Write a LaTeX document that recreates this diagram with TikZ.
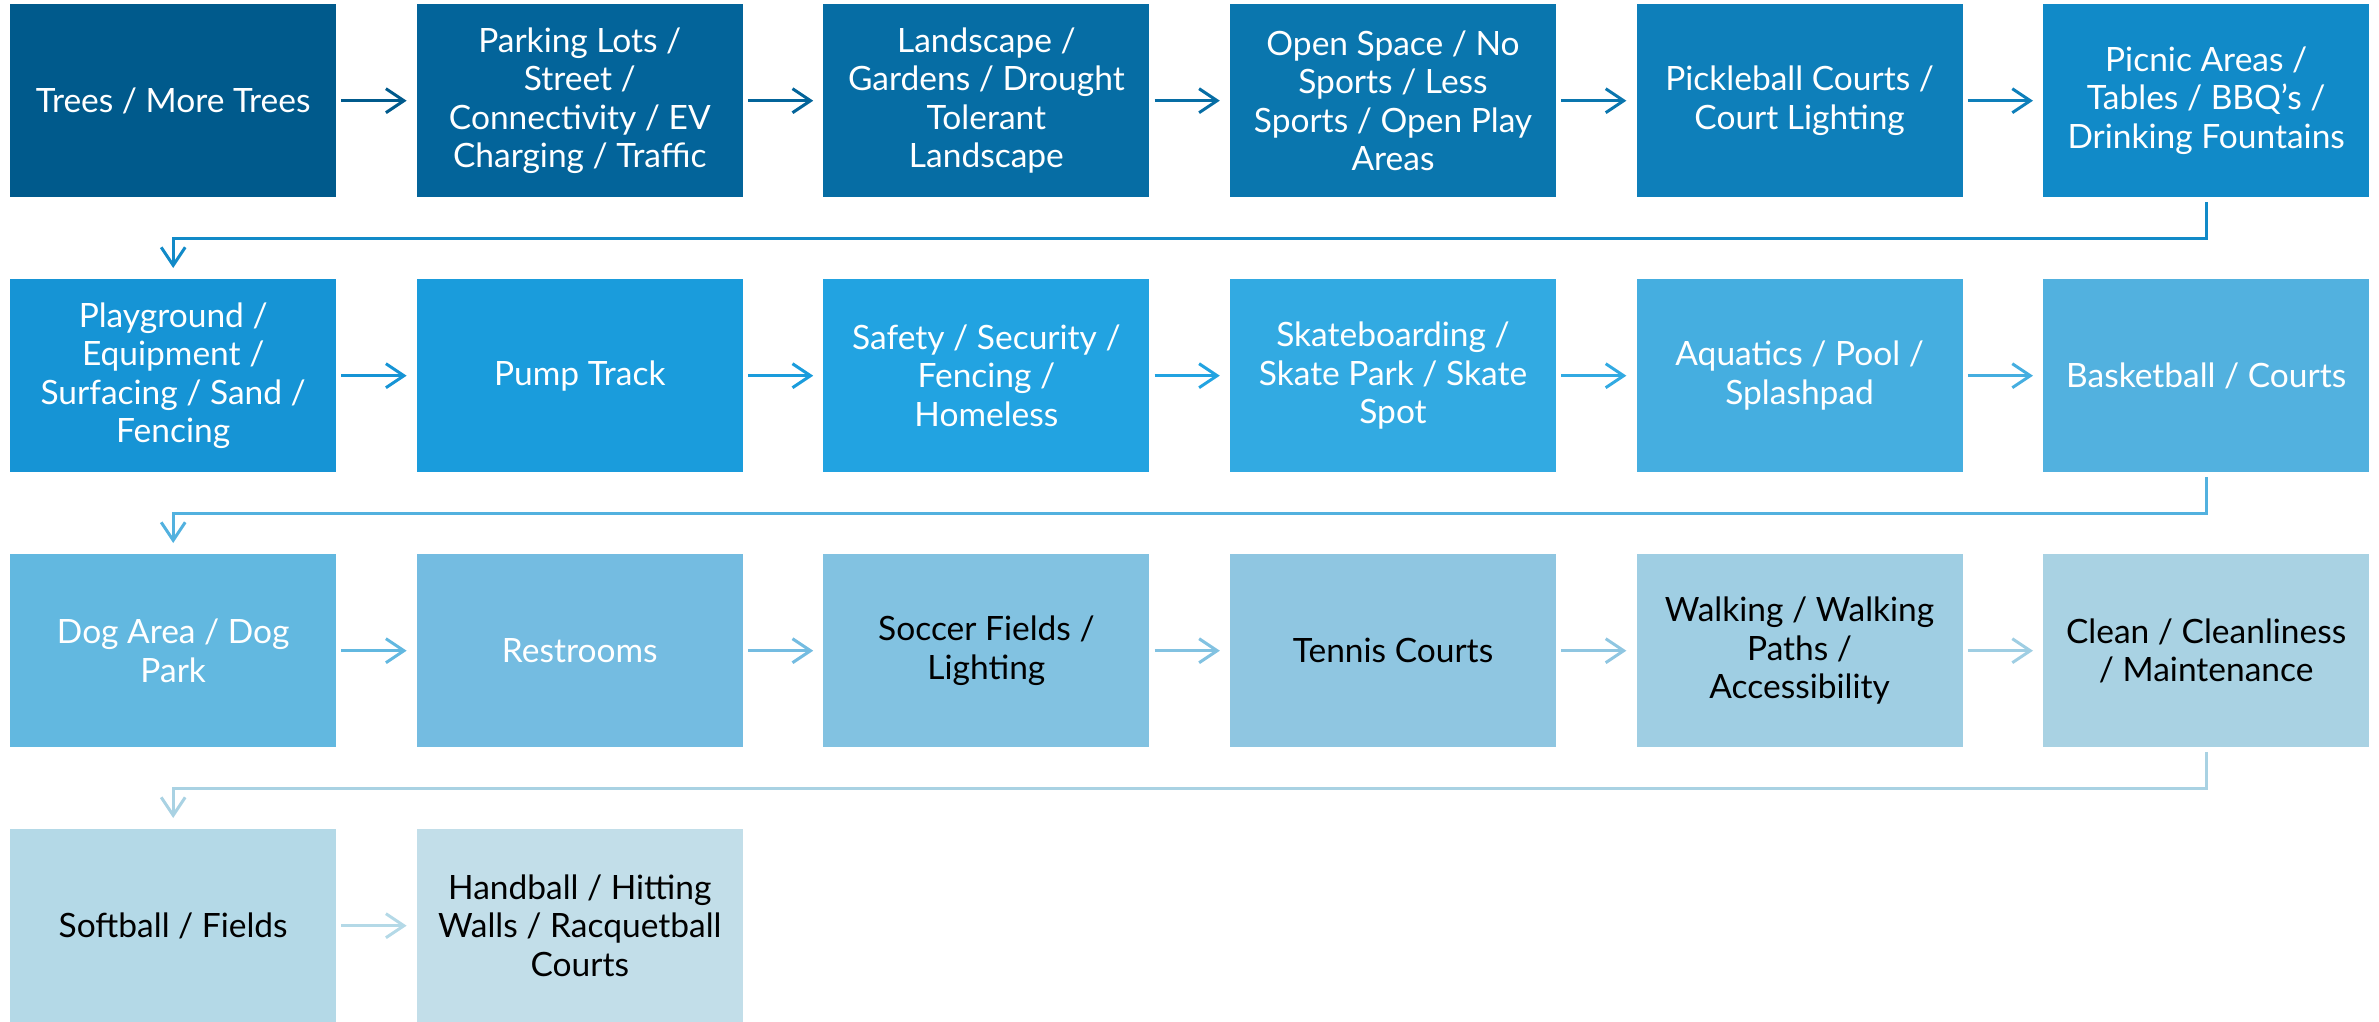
\documentclass[tikz,border=0pt]{standalone}
\usepackage{fontspec}
\setmainfont{Lato}
\usetikzlibrary{arrows.meta}
\definecolor{c1}{HTML}{005A8C}
\definecolor{c2}{HTML}{03649A}
\definecolor{c3}{HTML}{066DA4}
\definecolor{c4}{HTML}{0A76AE}
\definecolor{c5}{HTML}{0E7FBA}
\definecolor{c6}{HTML}{118AC8}
\definecolor{c7}{HTML}{1694D5}
\definecolor{c8}{HTML}{1A9CDC}
\definecolor{c9}{HTML}{22A3E1}
\definecolor{c10}{HTML}{32AAE2}
\definecolor{c11}{HTML}{45AEE0}
\definecolor{c12}{HTML}{52B1DF}
\definecolor{c13}{HTML}{62B8E0}
\definecolor{c14}{HTML}{74BCE1}
\definecolor{c15}{HTML}{82C2E1}
\definecolor{c16}{HTML}{8FC6E1}
\definecolor{c17}{HTML}{9FCEE3}
\definecolor{c18}{HTML}{A9D2E3}
\definecolor{c19}{HTML}{B4D9E7}
\definecolor{c20}{HTML}{C2DEE9}
\tikzset{
  stepbox/.style={fill=#1, draw=none, minimum width=326pt, minimum height=193pt,
    inner sep=0pt, anchor=north west, align=center,
    font=\fontsize{33.5}{38.5}\selectfont},
  wtext/.style={text=white},
  btext/.style={text=black},
  flow/.style={draw=#1, line width=3pt, -{Straight Barb[length=18pt,width=24pt]},
    shorten <=5pt, shorten >=10pt},
  elbow/.style={draw=#1, line width=3pt, -{Straight Barb[length=18pt,width=24pt]},
    shorten <=5pt, shorten >=11pt}
}
\begin{document}
\begin{tikzpicture}[x=1pt,y=-1pt]
\useasboundingbox (0,0) rectangle (2379,1022);
% row 1
\node[stepbox=c1,wtext] (n1) at (10,4) {Trees / More Trees};
\node[stepbox=c2,wtext] (n2) at (416.6,4) {Parking Lots /\\Street /\\Connectivity / EV\\Charging / Traffic};
\node[stepbox=c3,wtext] (n3) at (823.2,4) {Landscape /\\Gardens / Drought\\Tolerant\\Landscape};
\node[stepbox=c4,wtext] (n4) at (1229.8,4) {Open Space / No\\Sports / Less\\Sports / Open Play\\Areas};
\node[stepbox=c5,wtext] (n5) at (1636.4,4) {Pickleball Courts /\\Court Lighting};
\node[stepbox=c6,wtext] (n6) at (2043,4) {Picnic Areas /\\Tables / BBQ’s /\\Drinking Fountains};
% row 2
\node[stepbox=c7,wtext] (n7) at (10,279) {Playground /\\Equipment /\\Surfacing / Sand /\\Fencing};
\node[stepbox=c8,wtext] (n8) at (416.6,279) {Pump Track};
\node[stepbox=c9,wtext] (n9) at (823.2,279) {Safety / Security /\\Fencing /\\Homeless};
\node[stepbox=c10,wtext] (n10) at (1229.8,279) {Skateboarding /\\Skate Park / Skate\\Spot};
\node[stepbox=c11,wtext] (n11) at (1636.4,279) {Aquatics / Pool /\\Splashpad};
\node[stepbox=c12,wtext] (n12) at (2043,279) {Basketball / Courts};
% row 3
\node[stepbox=c13,wtext] (n13) at (10,554) {Dog Area / Dog\\Park};
\node[stepbox=c14,wtext] (n14) at (416.6,554) {Restrooms};
\node[stepbox=c15,btext] (n15) at (823.2,554) {Soccer Fields /\\Lighting};
\node[stepbox=c16,btext] (n16) at (1229.8,554) {Tennis Courts};
\node[stepbox=c17,btext] (n17) at (1636.4,554) {Walking / Walking\\Paths /\\Accessibility};
\node[stepbox=c18,btext] (n18) at (2043,554) {Clean / Cleanliness\\/ Maintenance};
% row 4
\node[stepbox=c19,btext] (n19) at (10,829) {Softball / Fields};
\node[stepbox=c20,btext] (n20) at (416.6,829) {Handball / Hitting\\Walls / Racquetball\\Courts};
% horizontal connectors
\draw[flow=c1] (n1.east) -- (n2.west);
\draw[flow=c2] (n2.east) -- (n3.west);
\draw[flow=c3] (n3.east) -- (n4.west);
\draw[flow=c4] (n4.east) -- (n5.west);
\draw[flow=c5] (n5.east) -- (n6.west);
\draw[flow=c7] (n7.east) -- (n8.west);
\draw[flow=c8] (n8.east) -- (n9.west);
\draw[flow=c9] (n9.east) -- (n10.west);
\draw[flow=c10] (n10.east) -- (n11.west);
\draw[flow=c11] (n11.east) -- (n12.west);
\draw[flow=c13] (n13.east) -- (n14.west);
\draw[flow=c14] (n14.east) -- (n15.west);
\draw[flow=c15] (n15.east) -- (n16.west);
\draw[flow=c16] (n16.east) -- (n17.west);
\draw[flow=c17] (n17.east) -- (n18.west);
\draw[flow=c19] (n19.east) -- (n20.west);
% elbow connectors
\draw[elbow=c6] (n6.south) -- ++(0,41) -| (n7.north);
\draw[elbow=c12] (n12.south) -- ++(0,41) -| (n13.north);
\draw[elbow=c18] (n18.south) -- ++(0,41) -| (n19.north);
\end{tikzpicture}
\end{document}
